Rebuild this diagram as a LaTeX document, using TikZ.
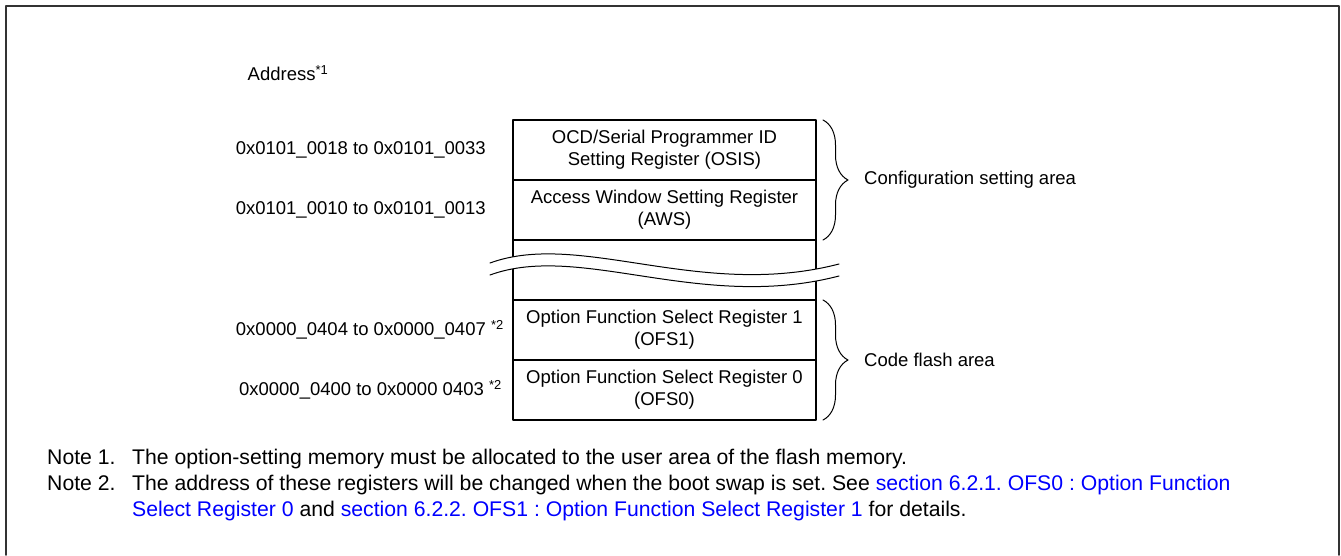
\documentclass[tikz,border=0pt]{standalone}
\usepackage{fontspec}
\setmainfont{Liberation Sans}
\usetikzlibrary{positioning,decorations.pathreplacing}
\definecolor{qqqqff}{rgb}{0,0,1}
\definecolor{uuuuuu}{rgb}{0.2,0.2,0.2}
\frenchspacing

\begin{document}
\begin{tikzpicture}[line cap=round,line join=round,x=1pt,y=-1pt,
  font=\fontsize{18.5}{22}\selectfont,
  reg/.style={draw,line width=1.5pt,minimum width=303pt,minimum height=60pt,inner sep=0pt,outer sep=0pt,align=center},
  txt/.style={inner sep=0pt},
  note/.style={inner sep=0pt,anchor=base west,font=\fontsize{21.2}{26}\selectfont},
  brc/.style={decorate,decoration={brace,amplitude=25pt},line width=1pt}]
		\useasboundingbox (0,0) rectangle (1341,555);
		\draw [color=uuuuuu,line width=1.5pt] (6,555)-- (6,6)-- (1339,6)-- (1339,555);
		% register stack
		\node[reg,anchor=north west] (osis) at (513,120) {OCD/Serial Programmer ID\\Setting Register (OSIS)};
		\node[reg,below=0pt of osis] (aws) {Access Window Setting Register\\(AWS)};
		\node[reg,below=0pt of aws] (gap) {};
		\node[reg,below=0pt of gap] (ofs1) {Option Function Select Register 1\\(OFS1)};
		\node[reg,below=0pt of ofs1] (ofs0) {Option Function Select Register 0\\(OFS0)};
		% break in the stack
		\fill [white] (490,263) .. controls (580,230) and (700,300) .. (839,264)-- (839,276) .. controls (700,312) and (580,242) .. (490,275)-- cycle;
		\draw [line width=1pt] (490,263) .. controls (580,230) and (700,300) .. (839,264);
		\draw [line width=1pt] (490,275) .. controls (580,242) and (700,312) .. (839,276);
		% areas
		\draw [brc] ([xshift=7pt]osis.north east)-- ([xshift=7pt]aws.south east);
		\draw [brc] ([xshift=7pt]ofs1.north east)-- ([xshift=7pt]ofs0.south east);
		\node[txt,right=48pt of aws.north east] (cfgarea) {Configuration setting area};
		\node[txt,right=48pt of ofs0.north east] (codearea) {Code flash area};
		% addresses
		\node[txt] (addr) at (288,73) {Address\textsuperscript{*1}};
		\node[txt,left=27pt of osis] (aosis) {0x0101\_0018 to 0x0101\_0033};
		\node[txt,left=27pt of aws] (aaws) {0x0101\_0010 to 0x0101\_0013};
		\node[txt,left=9pt of ofs1] (aofsa) {0x0000\_0404 to 0x0000\_0407 \textsuperscript{*2}};
		\node[txt,left=11pt of ofs0] (aofsb) {0x0000\_0400 to 0x0000 0403 \textsuperscript{*2}};
		% notes
		\node[note] (nonelbl) at (47,464) {Note 1.};
		\node[note] (nonetxt) at (132,464) {The option-setting memory must be allocated to the user area of the flash memory.};
		\node[note] (ntwolbl) at (47,490) {Note 2.};
		\node[note] (ntwotxt) at (132,490) {The address of these registers will be changed when the boot swap is set. See \textcolor{qqqqff}{section 6.2.1. OFS0 : Option Function}};
		\node[note] (ntwomore) at (132,516) {\textcolor{qqqqff}{Select Register 0} and \textcolor{qqqqff}{section 6.2.2. OFS1 : Option Function Select Register 1} for details.};
\end{tikzpicture}
\end{document}
